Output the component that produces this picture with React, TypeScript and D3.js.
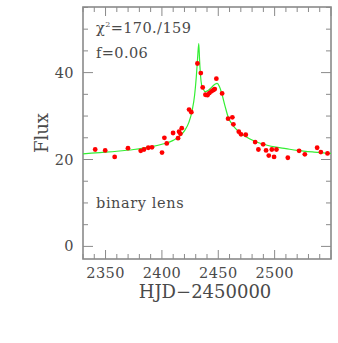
import React, { useRef, useEffect } from "react";
import * as d3 from "d3";

// observed flux points [HJD-2450000, flux]
const obsDays = [
  2340.8, 2349.7, 2358.1, 2369.9, 2381.2, 2384.1, 2387.9, 2391.2, 2400.1, 2402.2,
  2404.3, 2409.9, 2414.3, 2415.2, 2416.4, 2417.6, 2424.1, 2426.1, 2431.5, 2434.5,
  2436.2, 2438.6, 2440.4, 2442.1, 2443.9, 2445.7, 2446.9, 2448.3, 2453.4, 2458.7,
  2462.5, 2463.4, 2468.2, 2470.2, 2474.4, 2482.7, 2485.6, 2489.8, 2492.4, 2494.8,
  2497.5, 2499.5, 2501.6, 2511.7, 2521.7, 2526.8, 2537.7, 2541.0, 2546.9,
];
const obsFlux = [
  22.3, 22.1, 20.6, 22.6, 22.0, 22.3, 22.7, 22.8, 21.6, 25.0,
  23.7, 26.1, 24.9, 26.4, 25.9, 27.2, 31.5, 30.9, 42.1, 39.9,
  36.6, 34.9, 34.8, 35.3, 35.7, 36.0, 36.2, 38.6, 35.2, 29.4,
  29.7, 28.1, 26.4, 25.8, 25.7, 24.0, 22.3, 23.5, 22.1, 20.9,
  22.3, 20.6, 22.3, 20.4, 22.0, 21.2, 22.7, 21.7, 21.4,
];

// binary lens model curve
const modelDays = [
  2330, 2345, 2360, 2375, 2390, 2400, 2410, 2415, 2420, 2424, 2427, 2429,
  2430.5, 2431.7, 2432.7, 2433.4, 2434.2, 2435.2, 2436.5, 2438.5, 2441, 2444,
  2447, 2449, 2451, 2453, 2456, 2459, 2462, 2465, 2470, 2475, 2480, 2490,
  2500, 2510, 2520, 2535, 2550,
];
const modelFlux = [
  21.3, 21.6, 21.9, 22.3, 22.9, 23.5, 24.4, 25.2, 26.6, 28.6, 31.5, 34.8,
  39.0, 43.5, 46.7, 43.0, 39.5, 37.2, 36.3, 35.6, 35.9, 36.6,
  37.3, 37.5, 36.8, 35.3, 32.3, 29.6, 28.2, 27.2, 26.0, 25.2, 24.5, 23.5,
  22.9, 22.5, 22.1, 21.7, 21.4,
];

const xTicks = [2350, 2400, 2450, 2500];
const yTicks = [0, 20, 40];
const labels = ["\u03c7", "=170./159", "f=0.06", "binary lens"];

function App() {
  const svgRef = useRef();

  useEffect(() => {
    const width = 338;
    const height = 343;
    const margin = { top: 7, right: 7, bottom: 84, left: 83 };

    const svg = d3.select(svgRef.current);
    svg.selectAll("*").remove();
    svg.attr("width", width).attr("height", height);

    const x = d3.scaleLinear().domain([2330, 2550]).range([margin.left, width - margin.right]);
    const y = d3.scaleLinear().domain([-2.9, 55.1]).range([height - margin.bottom, margin.top]);

    const x0 = margin.left, x1 = width - margin.right;
    const y0 = height - margin.bottom, y1 = margin.top;
    const frame = "#8a8a8a";
    const txt = "#4a4a4a";
    const font = "'DejaVu Serif', serif";

    svg.append("clipPath").attr("id", "plot")
      .append("rect")
      .attr("x", x0).attr("y", y1)
      .attr("width", x1 - x0).attr("height", y0 - y1);

    // ticks on all four sides, pointing inward
    const ticks = svg.append("g").attr("stroke", frame).attr("stroke-width", 1);
    d3.range(2330, 2551, 10).forEach(v => {
      const len = v % 50 === 0 ? 9 : 5;
      ticks.append("line").attr("x1", x(v)).attr("x2", x(v)).attr("y1", y0).attr("y2", y0 - len);
      ticks.append("line").attr("x1", x(v)).attr("x2", x(v)).attr("y1", y1).attr("y2", y1 + len);
    });
    d3.range(0, 56, 5).forEach(v => {
      const len = v % 20 === 0 ? 10 : 5;
      ticks.append("line").attr("y1", y(v)).attr("y2", y(v)).attr("x1", x0).attr("x2", x0 + len);
      ticks.append("line").attr("y1", y(v)).attr("y2", y(v)).attr("x1", x1).attr("x2", x1 - len);
    });

    svg.append("rect")
      .attr("x", x0).attr("y", y1)
      .attr("width", x1 - x0).attr("height", y0 - y1)
      .attr("fill", "none")
      .attr("stroke", frame)
      .attr("stroke-width", 1.6);

    // model curve
    const line = d3.line()
      .x(d => x(d[0]))
      .y(d => y(d[1]))
      .curve(d3.curveMonotoneX);
    svg.append("path")
      .datum(modelDays.map((d, i) => [d, modelFlux[i]]))
      .attr("clip-path", "url(#plot)")
      .attr("d", line)
      .attr("fill", "none")
      .attr("stroke", "#33ee33")
      .attr("stroke-width", 1.2);

    // data points
    svg.append("g")
      .selectAll("circle")
      .data(obsDays.map((d, i) => [d, obsFlux[i]]))
      .enter()
      .append("circle")
      .attr("cx", d => x(d[0]))
      .attr("cy", d => y(d[1]))
      .attr("r", 2.4)
      .attr("fill", "#ff0000");

    // tick labels
    svg.append("g")
      .selectAll("text")
      .data(xTicks)
      .enter()
      .append("text")
      .attr("x", d => x(d))
      .attr("y", 278)
      .attr("text-anchor", "middle")
      .attr("font-family", font)
      .attr("font-size", 14.5)
      .attr("letter-spacing", 0.4)
      .attr("fill", txt)
      .text(d => d);

    svg.append("g")
      .selectAll("text")
      .data(yTicks)
      .enter()
      .append("text")
      .attr("x", 74)
      .attr("y", d => y(d) + 5)
      .attr("text-anchor", "end")
      .attr("font-family", font)
      .attr("font-size", 14.5)
      .attr("letter-spacing", 0.4)
      .attr("fill", txt)
      .text(d => d);

    // axis titles
    svg.append("text")
      .attr("x", 205)
      .attr("y", 298)
      .attr("text-anchor", "middle")
      .attr("font-family", font)
      .attr("font-size", 18)
      .attr("fill", txt)
      .text("HJD\u22122450000");

    svg.append("text")
      .attr("transform", `translate(48,${(y0 + y1) / 2}) rotate(-90)`)
      .attr("text-anchor", "middle")
      .attr("font-family", font)
      .attr("font-size", 18)
      .attr("fill", txt)
      .text("Flux");

    // annotations
    const chi = svg.append("text")
      .attr("x", 96)
      .attr("y", 33)
      .attr("font-family", font)
      .attr("font-size", 14.5)
      .attr("letter-spacing", 0.4)
      .attr("fill", txt);
    chi.append("tspan").text(labels[0]);
    chi.append("tspan").attr("dy", -6).attr("font-size", 8).text("2");
    chi.append("tspan").attr("dy", 6).text(labels[1]);

    svg.append("text")
      .attr("x", 96)
      .attr("y", 58)
      .attr("font-family", font)
      .attr("font-size", 14.5)
      .attr("letter-spacing", 0.4)
      .attr("fill", txt)
      .text(labels[2]);

    svg.append("text")
      .attr("x", 96)
      .attr("y", 208)
      .attr("font-family", font)
      .attr("font-size", 14.5)
      .attr("letter-spacing", 0.6)
      .attr("fill", txt)
      .text(labels[3]);
  }, []);

  return (
    <div style={{ position: "absolute", left: 0, top: 0 }}>
      <svg ref={svgRef}></svg>
    </div>
  );
}

export default App;
